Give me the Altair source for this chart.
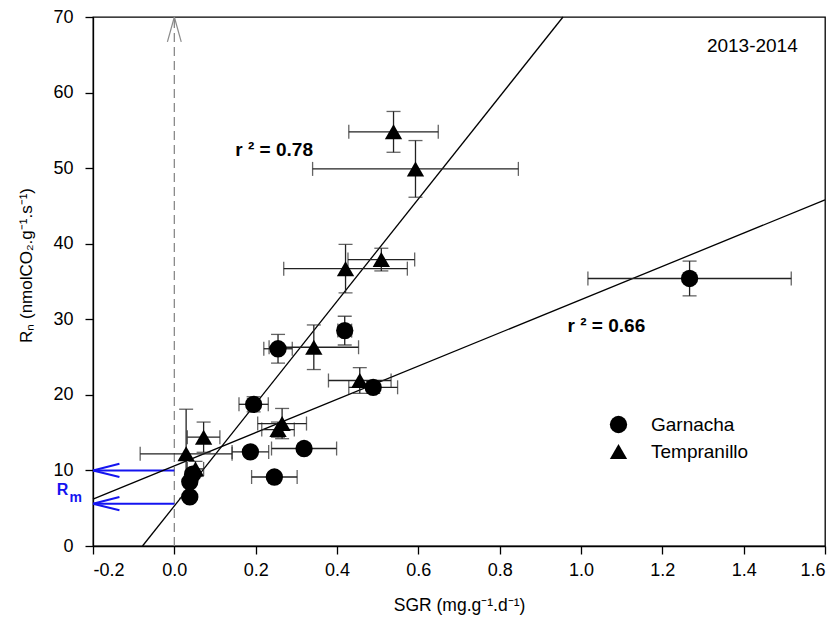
import altair as alt
import pandas as pd

FONT = "Liberation Sans"

# Garnacha: mean SGR, mean Rn and their standard errors
gar_x = [1.267, 0.255, 0.419, 0.195, 0.489, 0.187, 0.319, 0.246, 0.038, 0.038, 0.045]
gar_y = [35.4, 26.1, 28.5, 18.75, 21.0, 12.45, 12.9, 9.13, 6.5, 8.5, 9.5]
gar_xerr = [0.25, 0.035, 0.017, 0.036, 0.06, 0.045, 0.08, 0.056, 0.01, 0.01, 0.01]
gar_yerr = [2.3, 1.9, 1.9, 1.0, 0.8, 0.6, 0.6, 0.6, 0.4, 0.4, 0.4]

# Tempranillo
tem_x = [0.539, 0.593, 0.421, 0.509, 0.343, 0.456, 0.265, 0.255, 0.072, 0.029, 0.052]
tem_y = [54.8, 49.9, 36.7, 37.9, 26.3, 21.9, 16.2, 15.4, 14.4, 12.2, 10.2]
tem_xerr = [0.11, 0.253, 0.152, 0.082, 0.11, 0.077, 0.06, 0.04, 0.04, 0.113, 0.02]
tem_yerr = [2.7, 3.75, 3.2, 1.5, 2.95, 1.7, 2.0, 1.0, 2.0, 5.9, 1.0]

# Linear fits (intercept = maintenance respiration Rm)
fit_labels = ["r ² = 0.78", "r ² = 0.66"]
fit_slope = [67.7, 22.0]
fit_intercept = [5.3, 10.6]
rm_values = [10.0, 5.6]

X_MIN, X_MAX = -0.2, 1.6
Y_MIN, Y_MAX = 0, 70
x_ticks = [-0.2, 0.0, 0.2, 0.4, 0.6, 0.8, 1.0, 1.2, 1.4, 1.6]
y_ticks = [0, 10, 20, 30, 40, 50, 60, 70]

rows = []
for name, xs_, ys_, xe, ye in [
    ("Garnacha", gar_x, gar_y, gar_xerr, gar_yerr),
    ("Tempranillo", tem_x, tem_y, tem_xerr, tem_yerr),
]:
    for x, y, dx, dy in zip(xs_, ys_, xe, ye):
        rows.append(dict(cultivar=name, sgr=x, rn=y,
                         xlo=x - dx, xhi=x + dx, ylo=y - dy, yhi=y + dy))
df = pd.DataFrame(rows)

xs = alt.Scale(domain=[X_MIN, X_MAX], nice=False, zero=False)
ys = alt.Scale(domain=[Y_MIN, Y_MAX], nice=False, zero=False)
X = lambda f: alt.X(f, type="quantitative", scale=xs)
Y = lambda f: alt.Y(f, type="quantitative", scale=ys)

ERR = "#222222"

hbar = alt.Chart(df).mark_rule(color=ERR, strokeWidth=1.3).encode(
    x=X("xlo"), x2="xhi", y=Y("rn"))
vbar = alt.Chart(df).mark_rule(color=ERR, strokeWidth=1.3).encode(
    x=X("sgr"), y=Y("ylo"), y2="yhi")

caps_h = pd.concat([
    df.assign(cx=df.xlo)[["cx", "rn"]],
    df.assign(cx=df.xhi)[["cx", "rn"]],
])
caps_v = pd.concat([
    df.assign(cy=df.ylo)[["sgr", "cy"]],
    df.assign(cy=df.yhi)[["sgr", "cy"]],
])
hcap = alt.Chart(caps_h).mark_tick(orient="vertical", size=14, thickness=1.3,
                                   color=ERR).encode(x=X("cx"), y=Y("rn"))
vcap = alt.Chart(caps_v).mark_tick(orient="horizontal", size=14, thickness=1.3,
                                   color=ERR).encode(x=X("sgr"), y=Y("cy"))

points = alt.Chart(df).mark_point(filled=True, opacity=1, color="black",
                                  size=300).encode(
    x=X("sgr"), y=Y("rn"),
    shape=alt.Shape("cultivar:N",
                    scale=alt.Scale(domain=["Garnacha", "Tempranillo"],
                                    range=["circle", "triangle-up"]),
                    legend=alt.Legend(title=None, orient="none",
                                      legendX=516, legendY=398,
                                      labelFontSize=19, symbolSize=300,
                                      symbolFillColor="black",
                                      symbolStrokeColor="black",
                                      labelOffset=23, rowPadding=4,
                                      labelFont=FONT, labelColor="black")),
)

# Regression lines clipped to the plotting frame
fit_rows = []
for lab, m, b in zip(fit_labels, fit_slope, fit_intercept):
    x0 = max(X_MIN, (Y_MIN - b) / m)
    x1 = min(X_MAX, (Y_MAX - b) / m)
    fit_rows += [dict(fit=lab, x=x0, y=m * x0 + b), dict(fit=lab, x=x1, y=m * x1 + b)]
fits = alt.Chart(pd.DataFrame(fit_rows)).mark_line(color="black", strokeWidth=1.3).encode(
    x=X("x"), y=Y("y"), detail="fit:N")

# Dashed reference at SGR = 0 with an open arrowhead
zero_line = alt.Chart(pd.DataFrame({"x": [0.0], "y": [Y_MIN], "y2": [Y_MAX]})).mark_rule(
    color="#8a8a8a", strokeDash=[9, 5], strokeWidth=1.3).encode(
    x=X("x"), y=Y("y"), y2="y2")
head = pd.DataFrame({"x": [0.0, 0.0], "y": [Y_MAX, Y_MAX],
                     "x2": [-0.017, 0.017], "y2": [Y_MAX - 3.3, Y_MAX - 3.3]})
zero_head = alt.Chart(head).mark_rule(color="#8a8a8a", strokeWidth=1.2).encode(
    x=X("x"), y=Y("y"), x2="x2", y2="y2")

# Blue arrows pointing to the intercepts (Rm)
BLUE = "#1414f0"
shaft = pd.DataFrame({"x": [0.0] * 2, "x2": [X_MIN] * 2, "y": rm_values})
rm_shaft = alt.Chart(shaft).mark_rule(color=BLUE, strokeWidth=2).encode(
    x=X("x"), x2="x2", y=Y("y"))
legs = []
for v in rm_values:
    legs += [dict(x=X_MIN, y=v, x2=X_MIN + 0.065, y2=v + 0.88),
             dict(x=X_MIN, y=v, x2=X_MIN + 0.065, y2=v - 0.88)]
rm_head = alt.Chart(pd.DataFrame(legs)).mark_rule(color=BLUE, strokeWidth=2).encode(
    x=X("x"), y=Y("y"), x2="x2", y2="y2")

rm_R = alt.Chart(pd.DataFrame({"x": [-0.289], "y": [7.35], "t": ["R"]})).mark_text(
    align="left", baseline="middle", font=FONT, fontSize=16, fontWeight="bold",
    color=BLUE).encode(x=X("x"), y=Y("y"), text="t:N")
rm_m = alt.Chart(pd.DataFrame({"x": [-0.258], "y": [6.3], "t": ["m"]})).mark_text(
    align="left", baseline="middle", font=FONT, fontSize=14, fontWeight="bold",
    color=BLUE).encode(x=X("x"), y=Y("y"), text="t:N")

labels = pd.DataFrame({"x": [0.15, 0.967], "y": [52.4, 29.1], "t": fit_labels})
fit_text = alt.Chart(labels).mark_text(
    align="left", baseline="middle", font=FONT, fontSize=19, fontWeight="bold",
    color="black").encode(x=X("x"), y=Y("y"), text="t:N")

season = alt.Chart(pd.DataFrame({"x": [1.533], "y": [66.1], "t": ["2013-2014"]})).mark_text(
    align="right", baseline="middle", font=FONT, fontSize=19, color="black").encode(
    x=X("x"), y=Y("y"), text="t:N")

base = alt.Chart(df).mark_point(opacity=0).encode(
    x=alt.X("sgr:Q", scale=xs, title="SGR (mg.g⁻¹.d⁻¹)",
            axis=alt.Axis(values=x_ticks, grid=False,
                          labelExpr="replace(format(datum.value, '.1f'), '−', '-')")),
    y=alt.Y("rn:Q", scale=ys, title="Rₙ (nmolCO₂.g⁻¹.s⁻¹)",
            axis=alt.Axis(values=y_ticks, format="d", grid=False,
                          titleX=-58, titleY=248)),
)

chart = alt.layer(
    base, zero_line, zero_head, rm_shaft, rm_head, fits,
    hbar, vbar, hcap, vcap, points, fit_text, season, rm_R, rm_m,
).properties(
    width=732, height=529,
    autosize=alt.AutoSizeParams(type="none"),
    padding={"left": 93, "top": 17, "right": 15, "bottom": 76},
).configure_view(
    stroke="black", strokeWidth=1.3,
).configure_axis(
    domainColor="black", domainWidth=1.3, tickColor="black", tickWidth=1.3,
    tickSize=8, labelFont=FONT, labelFontSize=18, labelColor="black",
    titleFont=FONT, titleFontWeight="normal", titleColor="black",
).configure_axisX(
    labelPadding=7, titlePadding=17, titleFontSize=17.5,
).configure_axisY(
    labelPadding=12, titleFontSize=17,
)

chart.save("out.html", embed_options={"renderer": "svg", "actions": False})
